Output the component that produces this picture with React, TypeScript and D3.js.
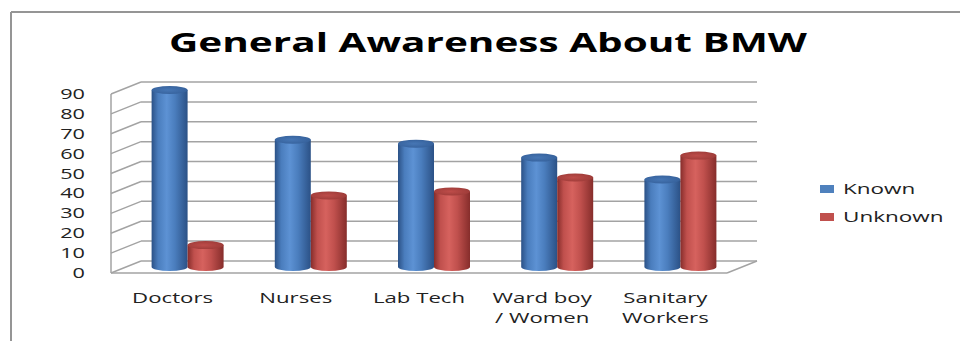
import React from "react";
import * as d3 from "d3";

const categoryLines: string[][] = [
  ["Doctors"],
  ["Nurses"],
  ["Lab Tech"],
  ["Ward boy", "/ Women"],
  ["Sanitary", "Workers"],
];
const categories = categoryLines.map((l) => l.join(" "));
const seriesNames = ["Known", "Unknown"];
const knownValues = [89, 64, 62, 55, 44];
const unknownValues = [11, 36, 38, 45, 56];
const yTicks = [0, 10, 20, 30, 40, 50, 60, 70, 80, 90];
const title = "General Awareness About BMW";

const W = 960;
const H = 341;
const SX = 1.5; // horizontal stretch of the reference image
const FONT = "'Open Sans', 'DejaVu Sans', sans-serif";

const colors: Record<string, { light: string; mid: string; dark: string; top: string; topEdge: string; legend: string }> = {
  Known: { light: "#5d92d4", mid: "#4a7dbd", dark: "#2b5186", top: "#4676b4", topEdge: "#35609a", legend: "#4F81BD" },
  Unknown: { light: "#d6625e", mid: "#c0504d", dark: "#862d2b", top: "#bd4c49", topEdge: "#9c3b38", legend: "#C0504D" },
};

export default function App() {
  const x = d3.scaleBand<string>().domain(categories).range([111, 727]).padding(0);
  const y = d3.scaleLinear().domain([0, 90]).range([273, 94]);
  const DX = 30;
  const DY = -12;
  const midDX = DX / 2;
  const midDY = DY / 2;
  const inner = d3.scaleBand<string>().domain(seriesNames).range([0, 72]);
  const rx = inner.bandwidth() / 2;
  const ry = 4;
  const seriesValues: Record<string, number[]> = { Known: knownValues, Unknown: unknownValues };

  const gridColor = "#a3a3a3";

  const bars: JSX.Element[] = [];
  categories.forEach((c, i) => {
    seriesNames.forEach((s) => {
      const v = seriesValues[s][i];
      const left = (x(c) as number) + x.bandwidth() / 2 - 36 + midDX + (inner(s) as number);
      const right = left + inner.bandwidth();
      const cx = (left + right) / 2;
      const baseY = y(0) + midDY;
      const topY = y(v) + midDY;
      const body = `M${left},${topY} L${left},${baseY} A${rx},${ry} 0 0 0 ${right},${baseY} L${right},${topY} Z`;
      bars.push(
        <g key={`${c}-${s}`}>
          <path d={body} fill={`url(#grad-${s})`} />
          <ellipse cx={cx} cy={topY} rx={rx} ry={ry} fill={`url(#top-${s})`} />
        </g>
      );
    });
  });

  return (
    <svg
      width={W}
      height={H}
      viewBox={`0 0 ${W} ${H}`}
      style={{ position: "absolute", left: 0, top: 0, background: "#fff" }}
    >
      <defs>
        {seriesNames.map((s) => (
          <linearGradient key={s} id={`grad-${s}`} x1="0" x2="1" y1="0" y2="0">
            <stop offset="0%" stopColor={colors[s].dark} />
            <stop offset="18%" stopColor={colors[s].mid} />
            <stop offset="42%" stopColor={colors[s].light} />
            <stop offset="65%" stopColor={colors[s].mid} />
            <stop offset="100%" stopColor={colors[s].dark} />
          </linearGradient>
        ))}
        {seriesNames.map((s) => (
          <radialGradient key={s} id={`top-${s}`} cx="0.45" cy="0.5" r="0.6">
            <stop offset="0%" stopColor={colors[s].top} />
            <stop offset="100%" stopColor={colors[s].topEdge} />
          </radialGradient>
        ))}
      </defs>

      {/* frame */}
      <line x1={11} y1={12} x2={W} y2={12} stroke="#959595" strokeWidth={2} />
      <line x1={11} y1={12} x2={11} y2={H} stroke="#959595" strokeWidth={2} />

      {/* title */}
      <text
        transform={`translate(488,52) scale(${SX},1)`}
        textAnchor="middle"
        fontFamily={FONT}
        fontWeight={700}
        fontSize={27}
        fill="#000"
      >
        {title}
      </text>

      {/* left wall */}
      <line x1={111} y1={y(90)} x2={111} y2={y(0)} stroke={gridColor} strokeWidth={1.5} />
      {yTicks.map((t) => (
        <g key={`g${t}`}>
          <line x1={111} y1={y(t)} x2={111 + DX} y2={y(t) + DY} stroke={gridColor} strokeWidth={1.5} />
          <line x1={111 + DX} y1={y(t) + DY} x2={727 + DX} y2={y(t) + DY} stroke={gridColor} strokeWidth={1.5} />
        </g>
      ))}
      {/* floor */}
      <line x1={111} y1={y(0)} x2={727} y2={y(0)} stroke={gridColor} strokeWidth={1.5} />
      <line x1={727} y1={y(0)} x2={727 + DX} y2={y(0) + DY} stroke={gridColor} strokeWidth={1.5} />

      {/* tick labels */}
      {yTicks.map((t) => (
        <text
          key={`t${t}`}
          transform={`translate(85,${y(t) + 5}) scale(${SX + 0.05},1)`}
          textAnchor="end"
          fontFamily={FONT}
          fontSize={14}
          fill="#222"
        >
          {t}
        </text>
      ))}

      {bars}

      {/* category labels */}
      {categoryLines.map((lines, i) => (
        <g key={`c${i}`}>
          {lines.map((ln, j) => (
            <text
              key={j}
              transform={`translate(${(x(categories[i]) as number) + x.bandwidth() / 2},${303 + j * 20}) scale(${SX},1)`}
              textAnchor="middle"
              fontFamily={FONT}
              fontSize={14.8}
              fill="#222"
            >
              {ln}
            </text>
          ))}
        </g>
      ))}

      {/* legend */}
      {seriesNames.map((s, i) => (
        <g key={`l${s}`}>
          <rect x={820} y={185 + i * 28} width={14} height={8} fill={colors[s].legend} />
          <text
            transform={`translate(843,${194 + i * 28}) scale(${SX},1)`}
            fontFamily={FONT}
            fontSize={15}
            fill="#222"
          >
            {s}
          </text>
        </g>
      ))}
    </svg>
  );
}
